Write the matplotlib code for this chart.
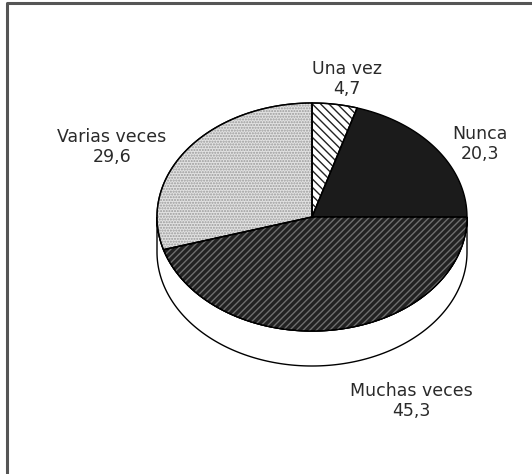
import numpy as np
import matplotlib.pyplot as plt
from matplotlib.patches import Polygon

labels = ["Una vez", "Nunca", "Muchas veces", "Varias veces"]
values = [4.7, 20.3, 45.3, 29.6]
value_text = ["4,7", "20,3", "45,3", "29,6"]

# styling per slice: face, hatch, hatch colour
faces = ["white", "#1b1b1b", "#222222", "#e2e2e2"]
hatches = ["\\\\\\\\", None, "/////", "......"]
hatch_cols = ["#222222", None, "#6e6e6e", "#9a9a9a"]

# label anchor points in pixels (centre of the two-line label)
label_pos = [(347, 79), (480, 144), (411, 401), (112, 147)]

W, H = 532, 474
cx, cy = 312, 217  # pie centre
a, b = 155, 114    # ellipse radii
depth = 35


def pt(theta, dy=0.0):
    return cx + a * np.cos(theta), cy - b * np.sin(theta) + dy


fig = plt.figure(figsize=(W / 100, H / 100), dpi=100)
ax = fig.add_axes([0, 0, 1, 1])
ax.set_xlim(0, W)
ax.set_ylim(H, 0)
ax.axis("off")

# frame (only the left and top edges survive in the scan)
ax.plot([7, 7, W + 10], [H + 10, 3, 3], color="#555555", lw=2.2,
        solid_capstyle="butt", clip_on=False)

# cylinder side
th = np.linspace(np.pi, 2 * np.pi, 200)
top = np.array([pt(t) for t in th])
bot = np.array([pt(t, depth) for t in th[::-1]])
side = Polygon(np.vstack([top, bot]), closed=True, facecolor="white",
               edgecolor="black", lw=1.0, zorder=1)
ax.add_patch(side)

# top surface slices, clockwise from 12 o'clock
fracs = np.array(values) / np.sum(values)
start = np.pi / 2
for i, f in enumerate(fracs):
    end = start - f * 2 * np.pi
    ts = np.linspace(start, end, max(int(f * 400), 10))
    pts = [(cx, cy)] + [pt(t) for t in ts]
    ax.add_patch(Polygon(pts, closed=True, facecolor=faces[i],
                         edgecolor="black", lw=1.0, zorder=2))
    if hatches[i]:
        ax.add_patch(Polygon(pts, closed=True, facecolor="none",
                             edgecolor=hatch_cols[i], hatch=hatches[i],
                             lw=0, zorder=3))
        ax.add_patch(Polygon(pts, closed=True, facecolor="none",
                             edgecolor="black", lw=1.0, zorder=4))
    start = end

for i, lab in enumerate(labels):
    x, y = label_pos[i]
    ax.text(x, y, lab + "\n" + value_text[i], ha="center", va="center",
            fontsize=12.5, color="#2a2a2a", linespacing=1.1,
            family="DejaVu Sans")

fig.savefig("out.png", dpi=100)
